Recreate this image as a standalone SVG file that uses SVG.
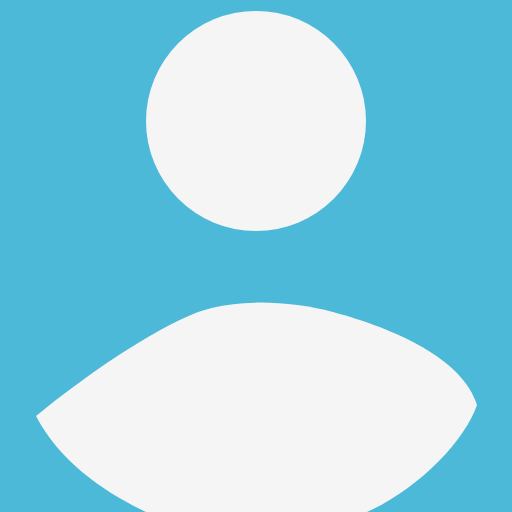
<svg xmlns="http://www.w3.org/2000/svg" width="512" height="512" viewBox="0 0 512 512"><style>.w{fill:#f5f5f5}</style><rect width="512" height="512" fill="#4bb9d7"/><circle class="w" cx="256" cy="121" r="110"/><path class="w" d="M36 416C85 376 148 332 198 312C238 298 290 301 333 312C395 329 462 358 477 405C465 440 420 488 367 512L146 512C104 492 60 462 36 416Z"/></svg>
